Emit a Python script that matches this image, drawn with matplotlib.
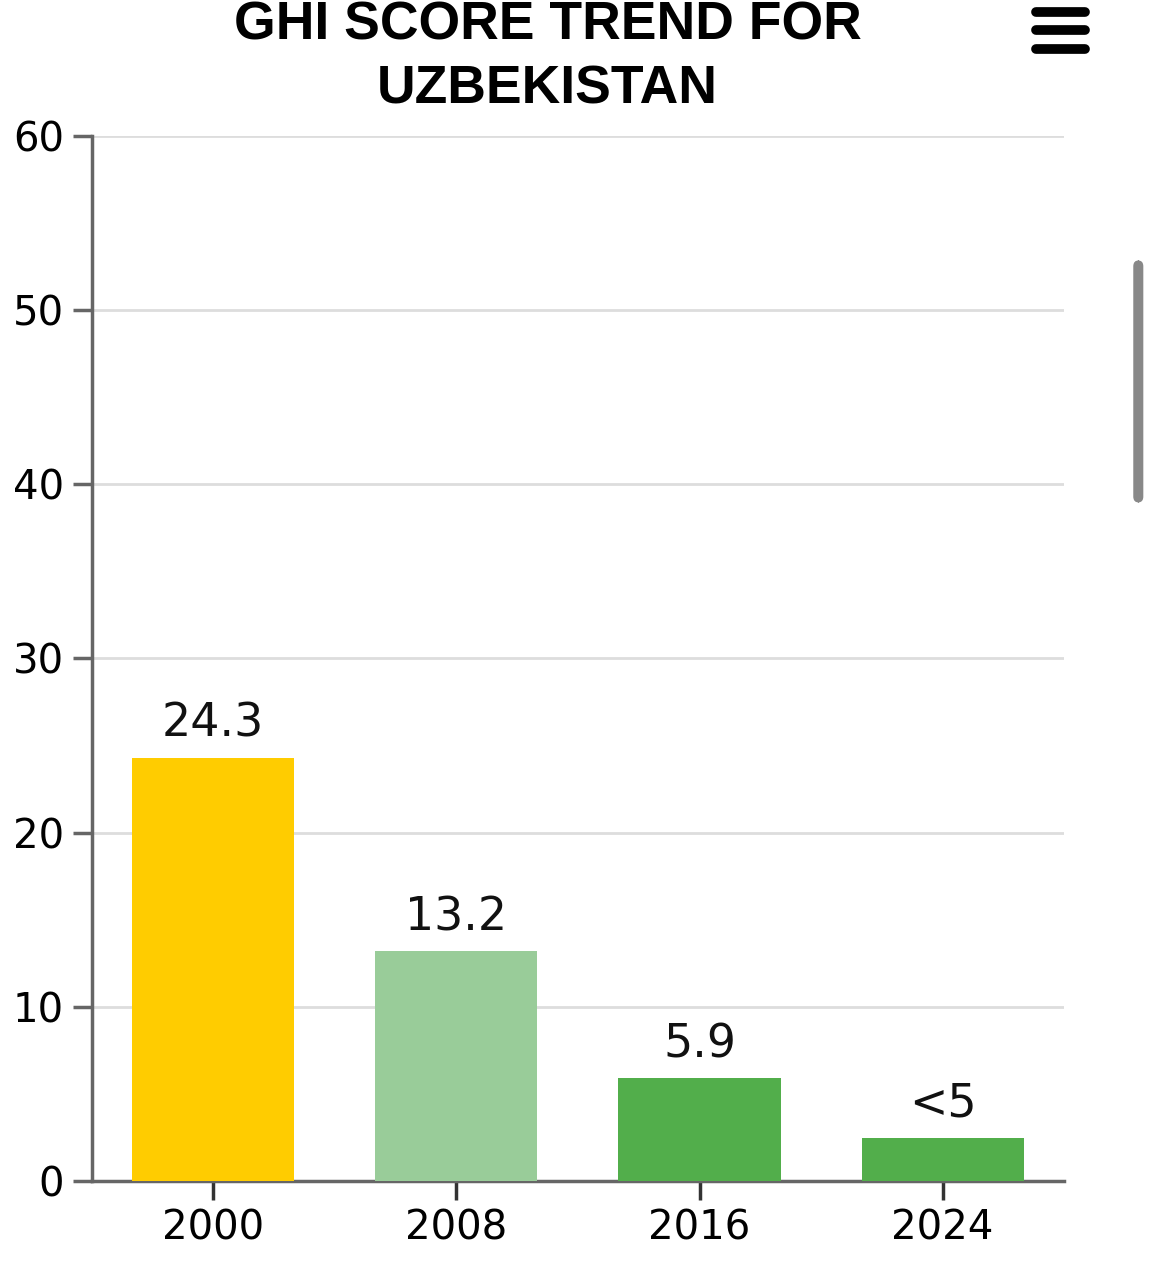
import matplotlib
matplotlib.use("Agg")
import matplotlib.pyplot as plt
from matplotlib.patches import FancyBboxPatch
from matplotlib.lines import Line2D

years = ["2000", "2008", "2016", "2024"]
scores = [24.3, 13.2, 5.9, 2.5]
value_labels = ["24.3", "13.2", "5.9", "<5"]
bar_colors = ["#FFCC00", "#99CC99", "#52AE4B", "#52AE4B"]
y_ticks = [0, 10, 20, 30, 40, 50, 60]

fig = plt.figure(figsize=(11.53, 12.8), dpi=100)
ax = fig.add_axes([0.0795, 0.0773, 0.8435, 0.8165])

x = list(range(len(years)))
ax.bar(x, scores, width=0.667, color=bar_colors, zorder=3)
for xi, v, lab in zip(x, scores, value_labels):
    ax.annotate(lab, (xi, v), xytext=(0, 8), textcoords="offset points",
                ha="center", va="bottom", fontsize=33, color="#111111", zorder=4)

ax.set_xlim(-0.5, len(years) - 0.5)
ax.set_ylim(0, 60)
ax.set_yticks(y_ticks)
ax.set_xticks(x)
ax.set_xticklabels(years)
ax.tick_params(axis="both", labelsize=29, labelcolor="black",
               width=2.5, length=14, pad=6)
ax.tick_params(axis="y", colors="#666666", labelcolor="black")
ax.tick_params(axis="x", colors="#333333", labelcolor="black")
ax.grid(axis="y", color="#DDDDDD", linewidth=2, zorder=0)
ax.set_axisbelow(True)
for side in ["top", "right"]:
    ax.spines[side].set_visible(False)
for side in ["left", "bottom"]:
    ax.spines[side].set_color("#666666")
    ax.spines[side].set_linewidth(2.5)

fig.text(0.475, 0.980, "GHI SCORE TREND FOR", ha="center", va="center",
         fontsize=38.5, fontweight="bold", family="Liberation Sans")
fig.text(0.475, 0.930, "UZBEKISTAN", ha="center", va="center",
         fontsize=38.5, fontweight="bold", family="Liberation Sans")

# menu icon
for yy in [0.9906, 0.9766, 0.9617]:
    fig.add_artist(Line2D([0.8985, 0.9410], [yy, yy], transform=fig.transFigure,
                          color="black", linewidth=7, solid_capstyle="round"))

# scrollbar
fig.add_artist(FancyBboxPatch((0.9835, 0.608), 0.0075, 0.188,
                              boxstyle="round,pad=0,rounding_size=0.004",
                              transform=fig.transFigure, color="#888888"))

fig.savefig("out.png", dpi=100)
